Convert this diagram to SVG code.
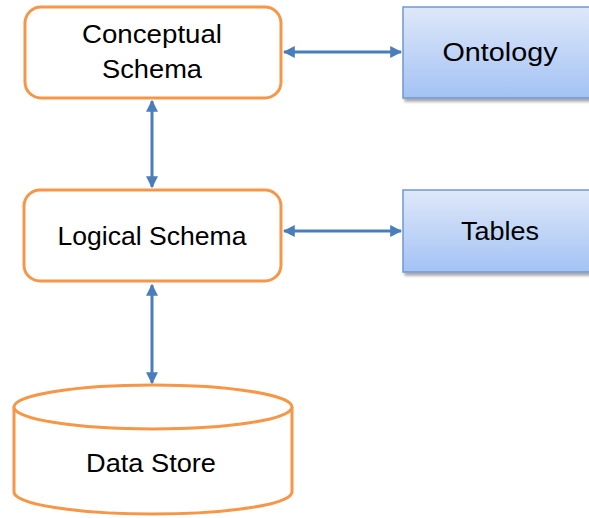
<svg xmlns="http://www.w3.org/2000/svg" width="589" height="518" viewBox="0 0 589 518">
<defs>
<linearGradient id="blueGrad" x1="0" y1="0" x2="0" y2="1">
<stop offset="0" stop-color="#DFE8F9"/>
<stop offset="1" stop-color="#A3C2F4"/>
</linearGradient>
<filter id="shadow" x="-10%" y="-10%" width="130%" height="130%">
<feGaussianBlur in="SourceAlpha" stdDeviation="1.5"/>
<feOffset dx="2" dy="3" result="b"/>
<feComponentTransfer><feFuncA type="linear" slope="0.35"/></feComponentTransfer>
<feMerge><feMergeNode/><feMergeNode in="SourceGraphic"/></feMerge>
</filter>
<marker id="ah" viewBox="0 0 10 10" refX="9" refY="5" markerWidth="4" markerHeight="4" orient="auto-start-reverse" markerUnits="strokeWidth">
<path d="M0,0 L10,5 L0,10 z" fill="#4A7EBB"/>
</marker>
</defs>
<style>
.orange{fill:#FFFFFF;stroke:#F79646;stroke-width:3}
.blue{fill:url(#blueGrad);stroke:#7396D2;stroke-width:1.5;filter:url(#shadow)}
.conn{stroke:#4A7EBB;stroke-width:3;fill:none;marker-start:url(#ah);marker-end:url(#ah)}
text{font-family:"Liberation Sans",Arial,sans-serif;font-size:25px;fill:#000;text-anchor:middle}
</style>
<rect width="589" height="518" fill="#FFFFFF"/>
<g id="connectors">
<line class="conn" x1="284" y1="52" x2="401" y2="52"/>
<line class="conn" x1="284" y1="231" x2="401" y2="231"/>
<line class="conn" x1="152" y1="101" x2="152" y2="187"/>
<line class="conn" x1="152" y1="285" x2="152" y2="383"/>
</g>
<g id="conceptual">
<rect class="orange" x="25" y="7" width="256" height="91" rx="16"/>
<text x="152" y="43" textLength="140" lengthAdjust="spacingAndGlyphs">Conceptual</text>
<text x="152" y="78" textLength="100" lengthAdjust="spacingAndGlyphs">Schema</text>
</g>
<g id="ontology">
<rect class="blue" x="403" y="7" width="192" height="91"/>
<text x="500" y="61" textLength="115" lengthAdjust="spacingAndGlyphs">Ontology</text>
</g>
<g id="logical">
<rect class="orange" x="24" y="190" width="257" height="91" rx="16"/>
<text x="152" y="245" textLength="189" lengthAdjust="spacingAndGlyphs">Logical Schema</text>
</g>
<g id="tables">
<rect class="blue" x="403" y="190" width="192" height="82"/>
<text x="500" y="240" textLength="78" lengthAdjust="spacingAndGlyphs">Tables</text>
</g>
<g id="datastore">
<path class="orange" d="M14,407 L14,492 A139,22 0 0 0 292,492 L292,407"/>
<ellipse class="orange" cx="153" cy="407" rx="139" ry="22"/>
<text x="151" y="472" textLength="130" lengthAdjust="spacingAndGlyphs">Data Store</text>
</g>
</svg>
